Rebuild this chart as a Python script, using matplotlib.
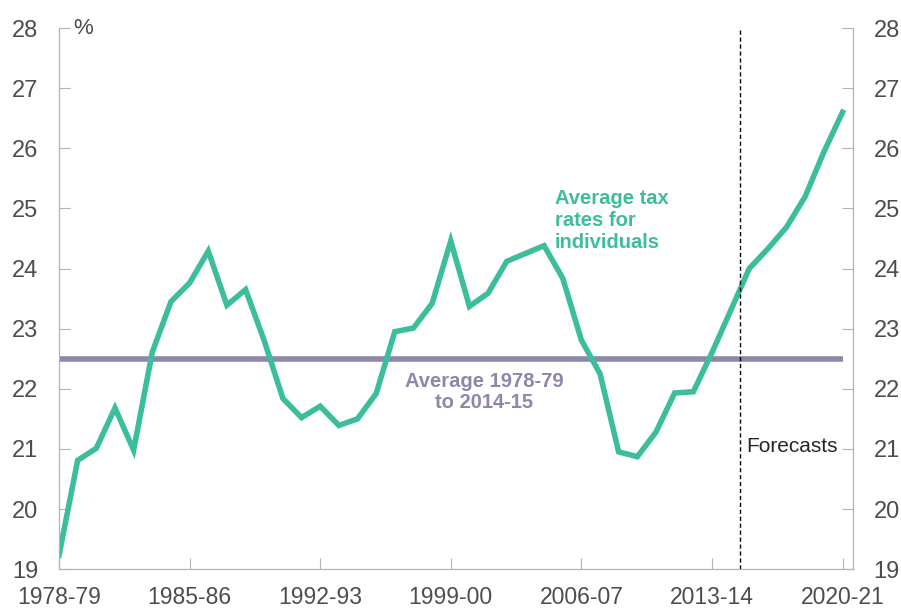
import matplotlib.pyplot as plt

plt.rcParams['font.family'] = ['Liberation Sans', 'DejaVu Sans']

years = ['1978-79', '1985-86', '1992-93', '1999-00', '2006-07', '2013-14', '2020-21']
tax_rate = [19.23, 20.81, 21.01, 21.68, 20.98, 22.61, 23.45, 23.76, 24.29, 23.39,
            23.65, 22.8, 21.84, 21.52, 21.71, 21.39, 21.50, 21.92, 22.95, 23.01,
            23.42, 24.46, 23.37, 23.59, 24.12, 24.25, 24.38, 23.84, 22.81, 22.25,
            20.95, 20.87, 21.28, 21.93, 21.95, 22.6, 23.3, 24.0, 24.33, 24.69,
            25.2, 25.94, 26.6]
average = 22.5
forecast_start = 36.5

teal = '#3CBE9C'
purple = '#8C87AB'
grey = '#B3B3B3'
txt = '#4D4D4D'

fig = plt.figure(figsize=(9.01, 6.1), dpi=100)
ax = fig.add_axes([0.0655, 0.067, 0.881, 0.887])

x = list(range(len(tax_rate)))
ax.plot([0, len(tax_rate) - 1], [average, average], color=purple, lw=4, solid_capstyle='butt')
ax.plot(x, tax_rate, color=teal, lw=4, solid_joinstyle='miter')
ax.axvline(forecast_start, color='black', lw=1, ls=(0, (3, 2)))

ax.set_xlim(0, 42.55)
ax.set_ylim(19, 28)
ax.set_xticks([0, 7, 14, 21, 28, 35, 42])
ax.set_xticklabels(years)
ax.set_yticks(range(19, 29))

ax2 = ax.twinx()
ax2.set_ylim(19, 28)
ax2.set_yticks(range(19, 29))

for a in (ax, ax2):
    for s in a.spines.values():
        s.set_color(grey)
    a.spines['top'].set_visible(False)
    a.tick_params(direction='in', length=8, color=grey, labelcolor=txt, labelsize=17, pad=15)
ax.tick_params(axis='x', labelsize=16.5, pad=12)

ax.text(0.018, 1.0, '%', transform=ax.transAxes, fontsize=16, color=txt, va='center')
ax.text(26.57, 24.8, 'Average tax\nrates for\nindividuals', color=teal, fontsize=14.5,
        fontweight='bold', linespacing=1.2, va='center', ha='left')
ax.text(22.8, 21.95, 'Average 1978-79\nto 2014-15', color=purple, fontsize=14.5,
        fontweight='bold', linespacing=1.1, va='center', ha='center')
ax.text(36.85, 21.04, 'Forecasts', color='#262626', fontsize=15, va='center', ha='left')

fig.savefig('out.png', dpi=100)
